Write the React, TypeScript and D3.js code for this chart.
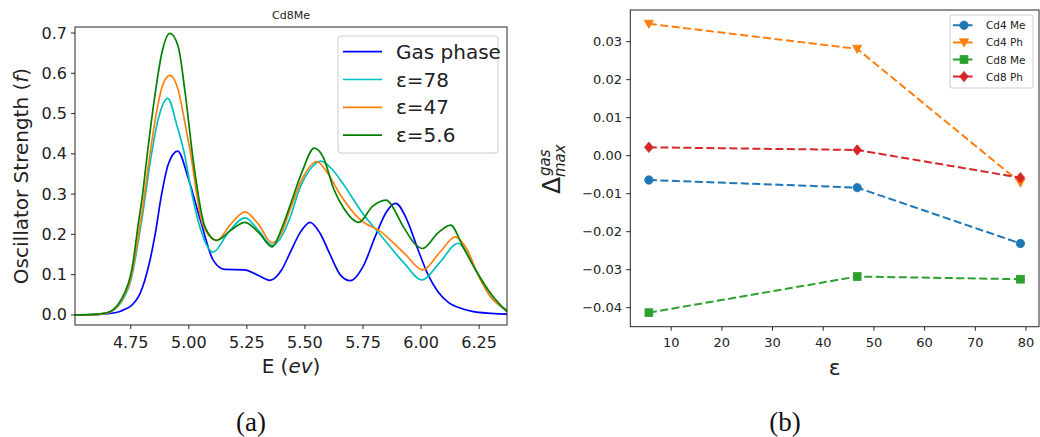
import React from "react";
import * as d3 from "d3";

// ---------- Panel (a): spectra, [E (eV), oscillator strength] ----------
const gasPhase: [number, number][] = [
  [4.51, 0], [4.6, 0.001], [4.65, 0.003], [4.7, 0.008], [4.725, 0.014], [4.75, 0.022], [4.77, 0.034],
  [4.79, 0.053], [4.81, 0.085], [4.833, 0.136], [4.855, 0.2], [4.883, 0.3], [4.912, 0.375],
  [4.952, 0.407], [5.0, 0.335], [5.05, 0.235], [5.105, 0.136], [5.155, 0.113], [5.24, 0.112],
  [5.3, 0.098], [5.35, 0.086], [5.4, 0.112], [5.435, 0.153], [5.48, 0.205], [5.522, 0.23],
  [5.565, 0.203], [5.609, 0.149], [5.653, 0.099], [5.696, 0.085], [5.75, 0.12], [5.805, 0.198],
  [5.85, 0.255], [5.891, 0.277], [5.94, 0.235], [5.985, 0.165], [6.03, 0.1], [6.072, 0.058],
  [6.12, 0.03], [6.159, 0.019], [6.22, 0.009], [6.304, 0.004], [6.37, 0.002],
];
const eps78: [number, number][] = [
  [4.51, 0], [4.6, 0.001], [4.65, 0.005], [4.7, 0.025], [4.725, 0.048], [4.75, 0.085],
  [4.765, 0.125], [4.78, 0.175], [4.8, 0.245], [4.835, 0.384], [4.87, 0.49], [4.909, 0.538],
  [4.95, 0.468], [4.984, 0.392], [5.005, 0.325], [5.048, 0.218], [5.105, 0.156], [5.17, 0.205],
  [5.242, 0.241], [5.3, 0.21], [5.359, 0.173], [5.4, 0.195], [5.435, 0.24], [5.48, 0.318],
  [5.52, 0.36], [5.568, 0.382], [5.62, 0.36], [5.667, 0.323], [5.754, 0.248], [5.826, 0.198],
  [5.928, 0.128], [6.003, 0.087], [6.08, 0.13], [6.159, 0.178], [6.205, 0.145], [6.246, 0.099],
  [6.3, 0.045], [6.37, 0.01],
];
const eps47: [number, number][] = [
  [4.51, 0], [4.6, 0.001], [4.65, 0.005], [4.7, 0.027], [4.725, 0.052], [4.75, 0.09],
  [4.765, 0.133], [4.78, 0.185], [4.8, 0.26], [4.829, 0.384], [4.86, 0.5], [4.89, 0.575],
  [4.919, 0.595], [4.955, 0.557], [4.984, 0.475], [5.005, 0.41], [5.06, 0.225], [5.12, 0.185],
  [5.18, 0.225], [5.242, 0.256], [5.3, 0.225], [5.359, 0.179], [5.4, 0.205], [5.435, 0.26],
  [5.49, 0.34], [5.551, 0.381], [5.6, 0.35], [5.653, 0.298], [5.739, 0.236], [5.826, 0.207],
  [5.928, 0.153], [6.007, 0.112], [6.08, 0.155], [6.148, 0.194], [6.2, 0.16], [6.246, 0.099],
  [6.3, 0.045], [6.37, 0.012],
];
const eps56: [number, number][] = [
  [4.51, 0], [4.6, 0.002], [4.65, 0.006], [4.7, 0.03], [4.725, 0.057], [4.75, 0.1],
  [4.765, 0.15], [4.779, 0.212], [4.8, 0.295], [4.818, 0.384], [4.855, 0.549], [4.883, 0.648],
  [4.919, 0.699], [4.955, 0.665], [4.984, 0.553], [5.019, 0.384], [5.07, 0.218], [5.12, 0.185],
  [5.18, 0.21], [5.242, 0.23], [5.3, 0.205], [5.359, 0.169], [5.4, 0.215], [5.435, 0.27],
  [5.488, 0.356], [5.54, 0.414], [5.58, 0.39], [5.623, 0.314], [5.667, 0.265], [5.732, 0.23],
  [5.79, 0.269], [5.848, 0.285], [5.928, 0.215], [5.971, 0.178], [6.007, 0.165], [6.072, 0.203],
  [6.127, 0.223], [6.18, 0.17], [6.231, 0.116], [6.304, 0.05], [6.37, 0.008],
];
const spectraLabels = ["Gas phase", "ε=78", "ε=47", "ε=5.6"];
const spectraColors = ["#0000ff", "#00bfbf", "#ff7f0e", "#008000"];
const energyTicks = [4.75, 5.0, 5.25, 5.5, 5.75, 6.0, 6.25];
const strengthTicks = [0, 0.1, 0.2, 0.3, 0.4, 0.5, 0.6, 0.7];

// ---------- Panel (b): Delta_max^gas vs epsilon ----------
const epsilonValues = [5.6, 46.7, 78.9];
const cd4Me = [-0.0064, -0.0084, -0.0231];
const cd4Ph = [0.0347, 0.0281, -0.0071];
const cd8Me = [-0.0413, -0.0318, -0.0325];
const cd8Ph = [0.0022, 0.0015, -0.0058];
const deltaLabels = ["Cd4 Me", "Cd4 Ph", "Cd8 Me", "Cd8 Ph"];
const deltaColors = ["#1f77b4", "#ff7f0e", "#2ca02c", "#d62728"];
const deltaMarkers = ["circle", "triangle", "square", "diamond"];
const epsTicks = [10, 20, 30, 40, 50, 60, 70, 80];
const deltaTicks = [-0.04, -0.03, -0.02, -0.01, 0, 0.01, 0.02, 0.03];

const FONT = "DejaVu Sans, sans-serif";
const AX = "#262626";

function Marker({ kind, x, y, color }: { kind: string; x: number; y: number; color: string }) {
  if (kind === "circle") return <circle cx={x} cy={y} r={4.2} fill={color} stroke={color} strokeWidth={0.8} />;
  if (kind === "square") return <rect x={x - 3.9} y={y - 3.9} width={7.8} height={7.8} fill={color} stroke={color} strokeWidth={0.8} />;
  if (kind === "diamond")
    return <path d={`M${x},${y - 5.2} L${x + 4.4},${y} L${x},${y + 5.2} L${x - 4.4},${y} Z`} fill={color} stroke={color} strokeWidth={0.8} />;
  return <path d={`M${x - 4.6},${y - 3.6} L${x + 4.6},${y - 3.6} L${x},${y + 4.6} Z`} fill={color} stroke={color} strokeWidth={0.8} />;
}

export default function App() {
  // Panel (a) geometry
  const aL = 75, aR = 507, aT = 27, aB = 325;
  const xE = d3.scaleLinear().domain([4.51, 6.37]).range([aL, aR]);
  const yF = d3.scaleLinear().domain([-0.025, 0.715]).range([aB, aT]);
  const spectra = [gasPhase, eps78, eps47, eps56];
  const lineA = d3
    .line<[number, number]>()
    .x((d) => xE(d[0]))
    .y((d) => yF(d[1]))
    .curve(d3.curveMonotoneX);

  // Panel (b) geometry
  const bL = 630.3, bR = 1039, bT = 10, bB = 326.7;
  const xEps = d3.scaleLinear().domain([1.935, 82.565]).range([bL, bR]);
  const yD = d3.scaleLinear().domain([-0.045, 0.03833]).range([bB, bT]);
  const deltaSeries = [cd4Me, cd4Ph, cd8Me, cd8Ph];
  const lineB = d3
    .line<number>()
    .x((_, i) => xEps(epsilonValues[i]))
    .y((d) => yD(d));
  const fmtD = (v: number) => (Math.abs(v) < 1e-9 ? "0.00" : d3.format(".2f")(v).replace("-", "\u2212"));

  return (
    <svg width={1040} height={437} style={{ display: "block", position: "absolute", left: 0, top: 0 }} fontFamily={FONT}>
      <rect x={0} y={0} width={1040} height={437} fill="#fff" />
      {/* ---------- Panel (a) ---------- */}
      <defs>
        <clipPath id="clipA">
          <rect x={aL} y={aT} width={aR - aL} height={aB - aT} />
        </clipPath>
      </defs>
      <text x={(aL + aR) / 2} y={15} fontSize={11} textAnchor="middle" dominantBaseline="central" fill="#222">
        Cd8Me
      </text>
      <g clipPath="url(#clipA)">
        {spectra.map((s, i) => (
          <path key={i} d={lineA(s) || ""} fill="none" stroke={spectraColors[i]} strokeWidth={1.7} strokeLinejoin="round" />
        ))}
      </g>
      <rect x={aL} y={aT} width={aR - aL} height={aB - aT} fill="none" stroke={AX} strokeWidth={1} />
      {energyTicks.map((t) => (
        <g key={t}>
          <line x1={xE(t)} x2={xE(t)} y1={aB} y2={aB + 4} stroke={AX} strokeWidth={1} />
          <text x={xE(t)} y={342} fontSize={16} textAnchor="middle" dominantBaseline="central" fill="#222">
            {d3.format(".2f")(t)}
          </text>
        </g>
      ))}
      {strengthTicks.map((t) => (
        <g key={t}>
          <line x1={aL - 4} x2={aL} y1={yF(t)} y2={yF(t)} stroke={AX} strokeWidth={1} />
          <text x={67} y={yF(t)} fontSize={16} textAnchor="end" dominantBaseline="central" fill="#222">
            {d3.format(".1f")(t)}
          </text>
        </g>
      ))}
      <text x={(aL + aR) / 2} y={366} fontSize={20} textAnchor="middle" dominantBaseline="central" fill="#222">
        E (<tspan fontStyle="italic">ev</tspan>)
      </text>
      <text
        transform={`translate(21,${(aT + aB) / 2}) rotate(-90)`}
        fontSize={20}
        textAnchor="middle"
        dominantBaseline="central"
        fill="#222"
      >
        Oscillator Strength (<tspan fontStyle="italic">f</tspan>)
      </text>
      {/* legend (a) */}
      <rect x={338} y={36} width={160} height={117} rx={3} fill="#fff" fillOpacity={0.8} stroke="#cccccc" strokeWidth={1} />
      {spectraLabels.map((lab, i) => {
        const y = 51.7 + i * 27.8;
        return (
          <g key={lab}>
            <line x1={343} x2={382} y1={y} y2={y} stroke={spectraColors[i]} strokeWidth={1.7} />
            <text x={396} y={y} fontSize={20} dominantBaseline="central" fill="#222">
              {lab}
            </text>
          </g>
        );
      })}

      {/* ---------- Panel (b) ---------- */}
      {deltaSeries.map((s, i) => (
        <g key={i}>
          <path d={lineB(s) || ""} fill="none" stroke={deltaColors[i]} strokeWidth={2} strokeDasharray="8,3.5" />
          {s.map((v, j) => (
            <Marker key={j} kind={deltaMarkers[i]} x={xEps(epsilonValues[j])} y={yD(v)} color={deltaColors[i]} />
          ))}
        </g>
      ))}
      <rect x={bL} y={bT} width={bR - bL} height={bB - bT} fill="none" stroke={AX} strokeWidth={1} />
      {epsTicks.map((t) => (
        <g key={t}>
          <line x1={xEps(t)} x2={xEps(t)} y1={bB} y2={bB + 4} stroke={AX} strokeWidth={1} />
          <text x={xEps(t)} y={342} fontSize={13} textAnchor="middle" dominantBaseline="central" fill="#222">
            {t}
          </text>
        </g>
      ))}
      {deltaTicks.map((t) => (
        <g key={t}>
          <line x1={bL - 4} x2={bL} y1={yD(t)} y2={yD(t)} stroke={AX} strokeWidth={1} />
          <text x={622} y={yD(t)} fontSize={13} textAnchor="end" dominantBaseline="central" fill="#222">
            {fmtD(t)}
          </text>
        </g>
      ))}
      <text x={(bL + bR) / 2} y={367} fontSize={22} textAnchor="middle" dominantBaseline="central" fill="#222">
        ε
      </text>
      <g transform="translate(560,194) rotate(-90)" fill="#222">
        <text x={0} y={0} fontSize={25}>
          Δ
        </text>
        <text x={18} y={-10} fontSize={15} fontStyle="italic">
          gas
        </text>
        <text x={17} y={5} fontSize={15} fontStyle="italic">
          max
        </text>
      </g>
      {/* legend (b) */}
      <rect x={950} y={15} width={83} height={73} rx={2} fill="#fff" fillOpacity={0.8} stroke="#cccccc" strokeWidth={1} />
      {deltaLabels.map((lab, i) => {
        const y = 25.3 + i * 17.1;
        return (
          <g key={lab}>
            <line x1={953} x2={975} y1={y} y2={y} stroke={deltaColors[i]} strokeWidth={2} strokeDasharray="8,3.5" />
            <Marker kind={deltaMarkers[i]} x={964} y={y} color={deltaColors[i]} />
            <text x={986} y={y} fontSize={10.5} dominantBaseline="central" fill="#222">
              {lab}
            </text>
          </g>
        );
      })}

      {/* captions */}
      <text x={251} y={431} fontSize={27} textAnchor="middle" fontFamily="Liberation Serif, serif" fill="#111">
        (a)
      </text>
      <text x={785} y={431} fontSize={27} textAnchor="middle" fontFamily="Liberation Serif, serif" fill="#111">
        (b)
      </text>
    </svg>
  );
}
